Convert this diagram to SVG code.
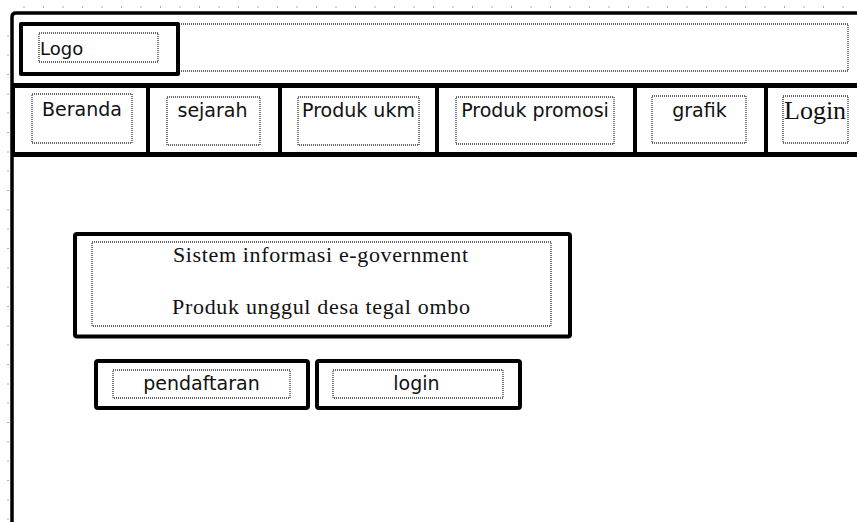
<svg xmlns="http://www.w3.org/2000/svg" width="857" height="522" viewBox="0 0 857 522">
<style>
.thick{fill:none;stroke:#000;stroke-width:4;stroke-linejoin:round}
.dot{fill:none;stroke:#333;stroke-width:1.3;stroke-dasharray:1 1}
.sans{font-family:"DejaVu Sans",Verdana,sans-serif;font-size:19px;fill:#111}
.serif{font-family:"Liberation Serif","Times New Roman",serif;fill:#111}
.tick{stroke:#aaa;stroke-width:1}
</style>
<rect width="857" height="522" fill="#fff"/>
<g id="ruler">
<path class="tick" d="M24,6v2M43.5,6v2M63,6v2M82.5,6v2M102,6v2M121.5,6v2M141,6v2M160.5,6v2M180,6v2M199.5,6v2M219,6v2M238.5,6v2M258,6v2M277.5,6v2M297,6v2M316.5,6v2M336,6v2M355.5,6v2M375,6v2M394.5,6v2M414,6v2M433.5,6v2M453,6v2M472.5,6v2M492,6v2M511.5,6v2M531,6v2M550.5,6v2M570,6v2M589.5,6v2M609,6v2M628.5,6v2M648,6v2M667.5,6v2M687,6v2M706.5,6v2M726,6v2M745.5,6v2M765,6v2M784.5,6v2M804,6v2M823.5,6v2M843,6v2"/>
<path class="tick" d="M7,36h2M7,55h2M7,74.5h2M7,94h2M7,113h2M7,132.5h2M7,152h2M7,171h2M7,190.5h2M7,210h2M7,229h2M7,248.5h2M7,268h2M7,287h2M7,306.5h2M7,326h2M7,345h2M7,364.5h2M7,384h2M7,403h2M7,422.5h2M7,442h2M7,461h2M7,480.5h2M7,500h2M7,519h2"/>
</g>
<g id="frame">
<path d="M12,522V17Q12,13 16,13H857" fill="none" stroke="#000" stroke-width="3.5"/>
<path d="M12,85H857" stroke="#000" stroke-width="4"/>
<path d="M12,155H857" stroke="#000" stroke-width="4"/>
</g>
<g id="header">
<rect class="dot" x="179" y="24" width="669" height="47"/>
</g>
<g id="logo">
<rect class="thick" x="21" y="24" width="157" height="50"/>
<rect class="dot" x="39" y="33" width="119" height="29"/>
<text class="sans" x="40" y="55" style="font-size:18px">Logo</text>
</g>
<g id="nav-beranda">
<rect class="thick" x="13" y="86" width="135" height="68"/>
<rect class="dot" x="32" y="94" width="100" height="49"/>
<text class="sans" x="82" y="116" text-anchor="middle">Beranda</text>
</g>
<g id="nav-sejarah">
<rect class="thick" x="148" y="86" width="132" height="68"/>
<rect class="dot" x="167" y="97" width="93" height="48"/>
<text class="sans" x="212.5" y="117" text-anchor="middle">sejarah</text>
</g>
<g id="nav-produk-ukm">
<rect class="thick" x="280" y="86" width="157" height="68"/>
<rect class="dot" x="298" y="97" width="121" height="48"/>
<text class="sans" x="358.5" y="117" text-anchor="middle">Produk ukm</text>
</g>
<g id="nav-produk-promosi">
<rect class="thick" x="437" y="86" width="198" height="68"/>
<rect class="dot" x="456" y="97" width="158" height="47"/>
<text class="sans" x="535" y="117" text-anchor="middle">Produk promosi</text>
</g>
<g id="nav-grafik">
<rect class="thick" x="635" y="86" width="131" height="68"/>
<rect class="dot" x="652" y="96" width="94" height="47"/>
<text class="sans" x="699.5" y="117" text-anchor="middle">grafik</text>
</g>
<g id="nav-login">
<rect class="thick" x="766" y="86" width="110" height="68"/>
<rect class="dot" x="783" y="96" width="65" height="47"/>
<text class="serif" x="784" y="119" style="font-size:26px">Login</text>
</g>
<g id="title">
<rect class="thick" x="75" y="234" width="495" height="102.5" rx="2"/>
<rect class="dot" x="92" y="242" width="459" height="84"/>
<text class="serif" x="320.5" y="262" text-anchor="middle" style="font-size:22px" textLength="295" lengthAdjust="spacing">Sistem informasi  e-government</text>
<text class="serif" x="321" y="314" text-anchor="middle" style="font-size:22px" textLength="298" lengthAdjust="spacing">Produk unggul  desa tegal ombo</text>
</g>
<g id="btn-pendaftaran">
<rect class="thick" x="96" y="361" width="212" height="47" rx="2"/>
<rect class="dot" x="113" y="370" width="177" height="28"/>
<text class="sans" x="201.5" y="390" text-anchor="middle">pendaftaran</text>
</g>
<g id="btn-login">
<rect class="thick" x="317" y="361" width="203" height="47" rx="2"/>
<rect class="dot" x="333" y="370" width="170" height="28"/>
<text class="sans" x="416.5" y="390" text-anchor="middle">login</text>
</g>
<g id="connectors"/>
</svg>
